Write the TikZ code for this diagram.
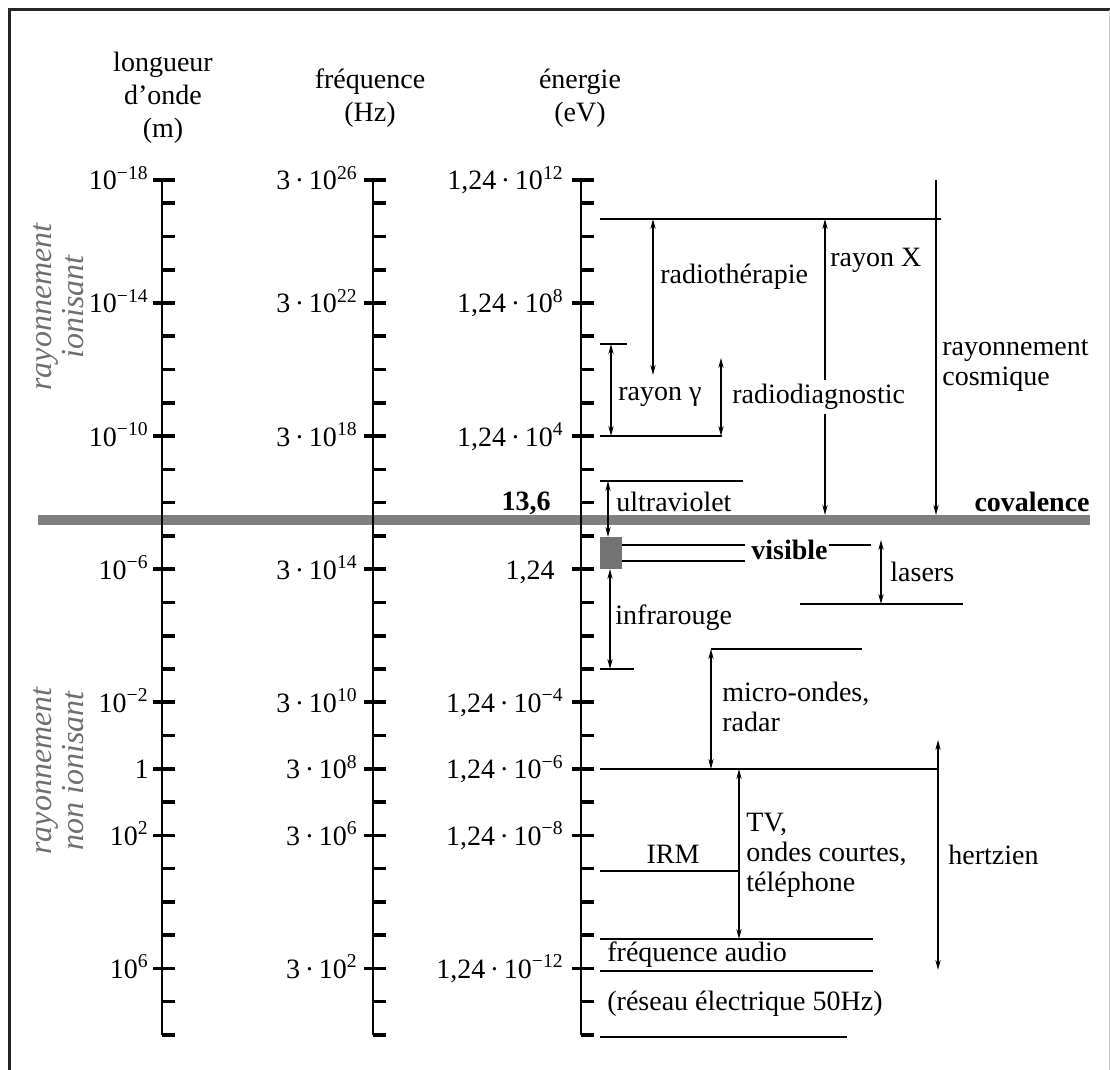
\documentclass[tikz,border=0pt]{standalone}
\usepackage{fontspec}
\setmainfont{Liberation Serif}
\usetikzlibrary{arrows.meta}
\newcommand{\lbl}{\fontsize{14}{15}\selectfont}
\newcommand{\ten}[1]{10\textsuperscript{#1}}
\definecolor{bargray}{RGB}{128,128,128}
\definecolor{sidegray}{RGB}{110,110,110}
\tikzset{
  axisline/.style={line width=1pt},
  mtick/.style={line width=1.8pt},
  lvl/.style={line width=0.75pt},
  rng/.style={{Stealth[length=5pt,width=2.6pt]}-{Stealth[length=5pt,width=2.6pt]}, line width=0.75pt},
  downarr/.style={-{Stealth[length=5pt,width=2.6pt]}, line width=0.75pt},
  lab/.style={font=\lbl, inner sep=0pt, anchor=west, align=left},
  ticklab/.style={font=\lbl, inner sep=0pt, anchor=base east},
  head/.style={font=\fontsize{14}{16.5}\selectfont, align=center, inner sep=0pt},
  sidelab/.style={font=\fontsize{16}{16}\selectfont\itshape, text=sidegray, align=center, rotate=90, inner sep=0pt},
}
\begin{document}
\begin{tikzpicture}[x=0.5pt,y=-0.5pt]
  \useasboundingbox (0,0) rectangle (1110,1070);
  % frame
  \draw[line width=1.5pt, black!85] (9,1080) -- (9,10) -- (1120,10);
  \draw[gray!35] (1109,10) -- (1109,1080);
  % headers
  \node[head] (hwl) at (163,98) {longueur\\d’onde\\(m)};
  \node[head] (hfr) at (370,98) {fréquence\\(Hz)};
  \node[head] (hen) at (580,98) {énergie\\(eV)};
  % covalence bar
  \draw[line width=5pt, bargray] (38,520) -- (1090,520);
  % three scales
  \foreach \ax in {162,373,581}{
    \draw[axisline] (\ax,180) -- (\ax,1035);
    \foreach \k in {-3,...,22} \draw[mtick] (\ax,{303+33.27*\k}) -- ++(13,0);
    \foreach \y in {180,303,436.1,569.2,702.2,768.8,835.3,968.4} \draw[mtick] (\ax-9,\y) -- (\ax+13,\y);
  }
  \foreach \y/\wl/\fr/\en [count=\i] in {180/{\ten{−18}}/{3\,·\,\ten{26}}/{1,24\,·\,\ten{12}},
      303/{\ten{−14}}/{3\,·\,\ten{22}}/{1,24\,·\,\ten{8}},
      436.1/{\ten{−10}}/{3\,·\,\ten{18}}/{1,24\,·\,\ten{4}},
      569.2/{\ten{−6}}/{3\,·\,\ten{14}}/{1,24\hspace*{4.5pt}},
      702.2/{\ten{−2}}/{3\,·\,\ten{10}}/{1,24\,·\,\ten{−4}},
      768.8/{1}/{3\,·\,\ten{8}}/{1,24\,·\,\ten{−6}},
      835.3/{\ten{2}}/{3\,·\,\ten{6}}/{1,24\,·\,\ten{−8}},
      968.4/{\ten{6}}/{3\,·\,\ten{2}}/{1,24\,·\,\ten{−12}}}{
    \node[ticklab] (wl\i) at (149,\y+10) {\wl};
    \node[ticklab] (fr\i) at (358,\y+10) {\fr};
    \node[ticklab] (en\i) at (564,\y+10) {\en};
  }
  \node[ticklab, font=\lbl\bfseries] (e136) at (551,510) {13,6};
  % side labels
  \node[sidelab] (ion) at (59,307) {rayonnement\\ionisant};
  \node[sidelab] (nonion) at (59,771) {rayonnement\\non ionisant};
  % level lines
  \draw[lvl] (600,219) -- (941,219);
  \draw[lvl] (600,344) -- (627,344);
  \draw[lvl] (600,436) -- (722,436);
  \draw[lvl] (600,481) -- (743,481);
  \draw[lvl] (622,545) -- (745,545) (622,561) -- (745,561) (829,545) -- (871,545);
  \draw[lvl] (800,604) -- (963,604);
  \draw[lvl] (711,649) -- (862,649);
  \draw[lvl] (600,669) -- (634,669);
  \draw[lvl] (600,769) -- (939,769);
  \draw[lvl] (600,871) -- (740,871);
  \draw[lvl] (600,939) -- (873,939);
  \draw[lvl] (600,971) -- (873,971);
  \draw[lvl] (600,1037) -- (847,1037);
  \fill[bargray!90!black] (600,537) rectangle (622,569);
  % ranges
  \draw[rng] (653,219) -- (653,375);
  \draw[rng] (825,219) -- (825,515);
  \draw[downarr] (936,180) -- (936,515);
  \draw[rng] (611,344) -- (611,436);
  \draw[rng] (721,358) -- (721,436);
  \draw[rng] (608,481) -- (608,537);
  \draw[rng] (610,569) -- (610,669);
  \draw[rng] (881,540) -- (881,604);
  \draw[rng] (711,649) -- (711,769);
  \draw[rng] (739,769) -- (739,939);
  \draw[rng] (938,740) -- (938,970);
  % labels
  \node[lab] (rth) at (660,277) {radiothérapie};
  \node[lab] (rx) at (830,260) {rayon X};
  \node[lab] (cos) at (942,366) {rayonnement\\cosmique};
  \node[lab] (rg) at (618,397) {rayon γ};
  \node[lab, fill=white, inner sep=2pt] (rdg) at (728,397) {radiodiagnostic};
  \node[lab] (uv) at (616,502) {ultraviolet};
  \node[lab, anchor=base east, font=\lbl\bfseries] (cov) at (1090,511) {covalence};
  \node[lab, font=\lbl\bfseries] (vis) at (751,550) {visible};
  \node[lab] (las) at (890,572) {lasers};
  \node[lab] (ir) at (615,618) {infrarouge};
  \node[lab] (mo) at (722,707) {micro-ondes,\\radar};
  \node[lab] (hz) at (948,855) {hertzien};
  \node[lab, anchor=center] (irm) at (673,854) {IRM};
  \node[lab] (tv) at (746,855) {TV,\\ondes courtes,\\téléphone};
  \node[lab] (aud) at (607,955) {fréquence audio};
  \node[lab] (res) at (607,1004) {(réseau électrique 50Hz)};
\end{tikzpicture}
\end{document}
